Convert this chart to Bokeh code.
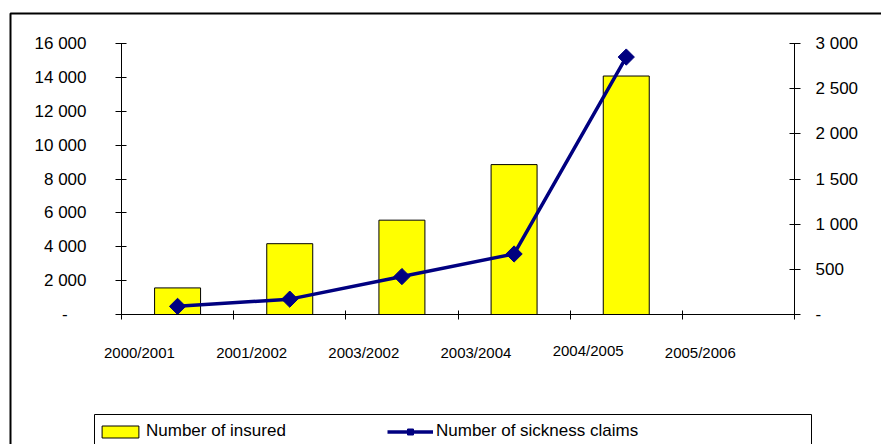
import numpy as np
from bokeh.plotting import figure
from bokeh.models import (Range1d, LinearAxis, FixedTicker, ColumnDataSource,
                          Legend, LegendItem, BoxAnnotation)
from bokeh.embed import file_html
from bokeh.resources import INLINE

# Seasons and yearly figures
seasons = ["2000/2001", "2001/2002", "2003/2002", "2003/2004", "2004/2005", "2005/2006"]
insured = [1570, 4180, 5570, 8850, 14080, None]   # left axis
claims = [90, 170, 420, 670, 2850, None]          # right axis

left_ticks = list(range(0, 16001, 2000))
right_ticks = list(range(0, 3001, 500))
LEFT_MAX, RIGHT_MAX = 16000, 3000

FONT = "Liberation Sans"
NAVY = "#000080"

# canvas size and where the axes sit on it (pixels from top-left)
W, H = 881, 444
AX_L, AX_R, AX_T, AX_B = 121, 794, 43, 314


def thousands(v):
    return f"{v:,}".replace(",", " ")


n = len(seasons)
# the frame fills the whole canvas; ranges are widened so that the axes
# (drawn at fixed locations) land on the chart area
px_x = (AX_R - AX_L) / n
px_left = (AX_B - AX_T) / LEFT_MAX
px_right = (AX_B - AX_T) / RIGHT_MAX
x_range = Range1d(-AX_L / px_x, n + (W - AX_R) / px_x)
y_range = Range1d(-(H - AX_B) / px_left, LEFT_MAX + AX_T / px_left)
y_claims = Range1d(-(H - AX_B) / px_right, RIGHT_MAX + AX_T / px_right)

# each season occupies one unit of the x range; marks sit at the unit centres
centres = [i + 0.5 for i in range(n)]
bar_src = ColumnDataSource(dict(
    x=[c for c, v in zip(centres, insured) if v is not None],
    top=[v for v in insured if v is not None]))
line_src = ColumnDataSource(dict(
    x=[c for c, v in zip(centres, claims) if v is not None],
    y=[v for v in claims if v is not None]))

p = figure(width=W, height=H, x_range=x_range, y_range=y_range,
           output_backend="svg", toolbar_location=None,
           x_axis_type=None, y_axis_type=None, min_border=0)
p.outline_line_color = None
p.background_fill_color = "white"
p.border_fill_color = "white"
p.extra_y_ranges = {"claims": y_claims}

axis_style = dict(axis_line_color="black", axis_line_width=1,
                  major_tick_line_color="black", minor_tick_line_color=None,
                  major_label_text_font=FONT, major_label_text_font_size="17px",
                  major_label_text_color="black")

left_labels = {v: thousands(v) for v in left_ticks}
left_labels[0] = "-\u2007\u2007"
yl = LinearAxis(ticker=FixedTicker(ticks=left_ticks, minor_ticks=[]),
                major_label_overrides=left_labels, fixed_location=0,
                bounds=(0, LEFT_MAX),
                major_tick_in=5, major_tick_out=6, major_label_standoff=29,
                **axis_style)
p.add_layout(yl, "left")

right_labels = {v: thousands(v) for v in right_ticks}
right_labels[0] = "-"
yr = LinearAxis(y_range_name="claims",
                ticker=FixedTicker(ticks=right_ticks, minor_ticks=[]),
                major_label_overrides=right_labels, fixed_location=n,
                bounds=(0, RIGHT_MAX),
                major_tick_in=5, major_tick_out=6, major_label_standoff=15,
                **axis_style)
p.add_layout(yr, "right")

# season names sit a little left of each bar; ticks mark the season boundaries
label_pos = [round(i + 0.16, 2) for i in range(n)]
bounds = list(range(n + 1))
label_style = dict(major_label_text_font=FONT, major_label_text_font_size="15px",
                   major_label_text_color="black",
                   major_tick_line_color=None, major_tick_in=0, major_tick_out=0)
raised = [4]  # the 2004/2005 label sits a few pixels higher
low_pos = [x for i, x in enumerate(label_pos) if i not in raised]
high_pos = [label_pos[i] for i in raised]
xa = LinearAxis(ticker=FixedTicker(ticks=low_pos, minor_ticks=bounds),
                major_label_overrides=dict(zip(label_pos, seasons)),
                fixed_location=0, bounds=(0, n),
                axis_line_color="black", axis_line_width=1,
                minor_tick_line_color="black", minor_tick_in=4, minor_tick_out=5,
                major_label_standoff=24, **label_style)
p.add_layout(xa, "below")
xa2 = LinearAxis(ticker=FixedTicker(ticks=high_pos, minor_ticks=[]),
                 major_label_overrides=dict(zip(label_pos, seasons)),
                 fixed_location=0, bounds=(0, n),
                 axis_line_color=None, minor_tick_line_color=None,
                 major_label_standoff=27, **label_style)
p.add_layout(xa2, "below")

bars = p.vbar(x="x", top="top", bottom=0, width=0.41, source=bar_src,
              fill_color="#FFFF00", line_color="black", line_width=1)
line = p.line(x="x", y="y", source=line_src, y_range_name="claims",
              line_color=NAVY, line_width=3.5)
pts = p.scatter(x="x", y="y", source=line_src, y_range_name="claims",
                marker="square", angle=np.pi / 4, size=11.5,
                fill_color=NAVY, line_color=NAVY)

legend = Legend(items=[LegendItem(label="Number of insured", renderers=[bars]),
                       LegendItem(label="Number of sickness claims", renderers=[line, pts])],
                orientation="horizontal", location=(97, 3),
                glyph_width=46, glyph_height=15, label_standoff=3,
                label_width=241, spacing=0, padding=0, margin=0,
                border_line_color=None, background_fill_alpha=0,
                label_text_font=FONT, label_text_font_size="17px",
                label_text_color="black")
p.add_layout(legend)

canvas = dict(left_units="canvas", right_units="canvas",
              top_units="canvas", bottom_units="canvas")
outer = BoxAnnotation(left=10, right=900, top=13, bottom=470,
                      fill_color=None, line_color="black", line_alpha=1,
                      line_width=2, **canvas)
legend_box = BoxAnnotation(left=94, right=811, top=414, bottom=470,
                           fill_color=None, line_color="black", line_alpha=1,
                           line_width=1, **canvas)
p.add_layout(outer)
p.add_layout(legend_box)

open("out.html", "w").write(file_html(p, INLINE))
